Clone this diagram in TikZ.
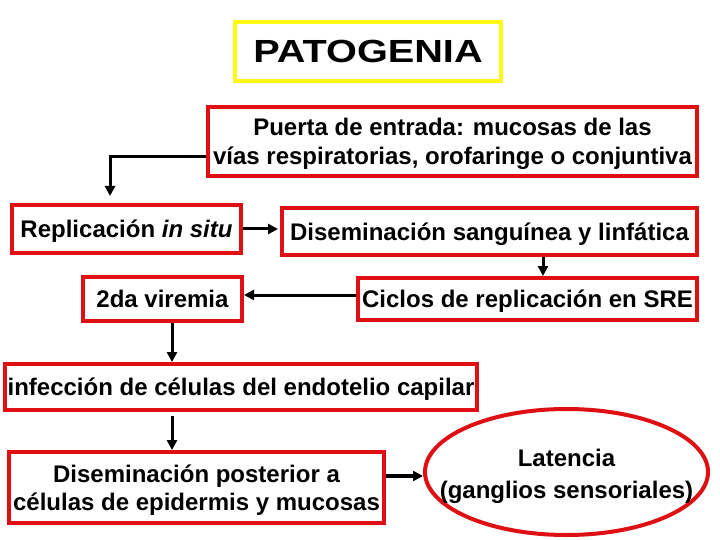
\documentclass[tikz,border=0pt]{standalone}
\usepackage{fontspec}
\setmainfont{Liberation Sans}
\usetikzlibrary{shapes.geometric,arrows.meta,calc}
\definecolor{boxred}{RGB}{222,16,20}
\definecolor{titleyellow}{RGB}{255,250,20}
\begin{document}
\begin{tikzpicture}[x=1pt,y=-1pt,
  redbox/.style={draw=boxred,line width=4pt,inner sep=0pt,align=center,text depth=0pt,
    font=\fontsize{24}{29}\selectfont\bfseries},
  arr/.style={line width=3pt,-{Triangle[length=10pt,width=10pt]}}]
\useasboundingbox (0,0) rectangle (720,540);
\node[draw=titleyellow,line width=4pt,minimum width=266pt,minimum height=59pt,inner sep=0pt,text depth=0pt]
  (title) at (368,51.5) {\scalebox{1.24}[1]{\fontsize{32}{36}\selectfont\bfseries PATOGENIA}};
\node[redbox,minimum width=489pt,minimum height=69pt] (puerta) at (452.5,141.5)
  {Puerta de entrada: mucosas de las\\v\'ias respiratorias, orofaringe o conjuntiva};
\node[redbox,minimum width=229pt,minimum height=48pt] (repl) at (126.5,229)
  {Replicaci\'on \textit{in situ}};
\node[redbox,minimum width=415pt,minimum height=47pt] (dsl) at (489.5,231.5)
  {Diseminaci\'on sangu\'inea y linf\'atica};
\node[redbox,minimum width=339pt,minimum height=42pt] (ciclos) at (527.5,299)
  {Ciclos de replicaci\'on en SRE};
\node[redbox,minimum width=159pt,minimum height=44pt] (viremia) at (162.5,299)
  {2da viremia};
\node[redbox,minimum width=472pt,minimum height=46pt] (infec) at (241,387)
  {infecci\'on de c\'elulas del endotelio capilar};
\node[redbox,minimum width=375pt,minimum height=71pt,text depth=-4pt,font=\fontsize{24}{28}\selectfont\bfseries] (post) at (196.5,487.5)
  {Diseminaci\'on posterior a\\c\'elulas de epidermis y mucosas};
\node[draw=boxred,line width=4pt,ellipse,inner sep=0pt,minimum width=283pt,minimum height=126pt] (lat) at (566.5,472) {};
\node[align=center,inner sep=0pt,text depth=0pt,font=\fontsize{24}{32}\selectfont\bfseries] (lattext) at ([yshift=-2pt]lat.center)
  {Latencia\\(ganglios sensoriales)};
\coordinate (c1) at (110,157);
\coordinate (c2) at (110,196);
\coordinate (c3) at (543,0);
\coordinate (c4) at (0,295);
\coordinate (c5) at (172,0);
\coordinate (c6) at (0,476);
\draw[arr] (puerta.west |- c1) -- (c1) -- (c2);
\draw[arr,shorten >=2pt] (repl.east) -- (repl.east -| dsl.west);
\draw[arr] (dsl.south -| c3) -- (ciclos.north -| c3);
\draw[arr] (ciclos.west |- c4) -- (viremia.east |- c4);
\draw[arr] (viremia.south -| c5) -- (infec.north -| c5);
\draw[arr,shorten <=4pt] (infec.south -| c5) -- (post.north -| c5);
\draw[arr,line width=3.5pt] (post.east |- c6) -- (lat.west |- c6);
\end{tikzpicture}
\end{document}
